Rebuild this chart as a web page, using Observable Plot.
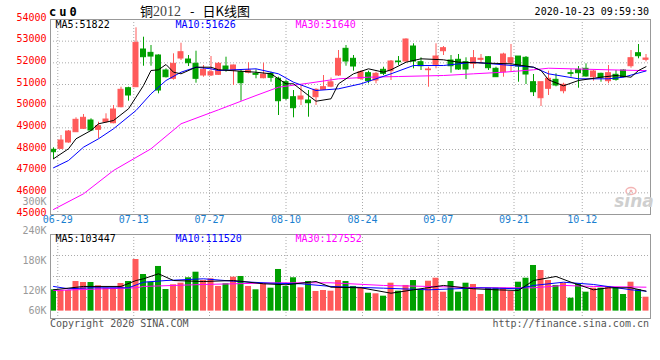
<!DOCTYPE html>
<html><head><meta charset="utf-8">
<script src="https://cdn.jsdelivr.net/npm/d3@7"></script>
<script src="https://cdn.jsdelivr.net/npm/@observablehq/plot@0.6"></script>
<style>
body{margin:0;background:#fff}
#wrap{position:relative;width:660px;height:360px;overflow:hidden;background:#fff}
#wrap svg{position:absolute;left:0}
</style></head><body><div id="wrap"></div>
<script>
// ---- data ----
const openP  = [47986,48032,48323,48798,48955,49338,48909,49260,49213,49952,50829,50875,52615,52460,52338,51646,51263,52199,52153,51955,51415,51415,51447,51830,51646,51567,51540,51493,51290,51493,51263,51106,50413,50307,50261,50413,50755,50900,51415,52647,52186,51263,51521,51184,51678,51614,52061,52061,52753,52029,51660,51909,52536,52107,52140,52029,51955,52140,52260,51724,51567,52001,52291,52232,51106,50367,50801,51216,50690,51521,51678,51724,51337,51493,51152,51447,51646,51844,52444,52140];
const highP  = [48078,48646,48877,49463,49615,49417,49260,49647,50030,50875,50875,53616,53183,52800,52370,51723,52416,52906,52338,52537,51877,52291,52015,52260,51900,51646,52001,51678,51983,51567,51337,51184,50722,50953,50723,50801,51415,51300,52569,52800,52338,51646,51614,51567,51798,52107,52291,53108,52878,52232,51798,52878,52753,52338,52384,52232,52569,52384,52291,51798,52444,52846,52291,52291,51461,51106,51614,51493,51060,51678,51830,51955,51646,51521,51877,51646,51678,52569,52846,52384];
const lowP   = [47538,48000,48290,48798,48923,48830,48494,49213,49186,49924,50229,50875,51844,51844,50570,51300,51200,52107,51830,51060,51337,51369,51415,51567,50953,50229,51493,51263,51263,51106,49569,50261,49463,50030,49490,50030,50723,50850,51369,51844,51614,51184,51032,51032,51415,51184,51877,52029,51724,51646,50875,51724,52338,51521,51646,51230,51724,51955,51646,51337,51337,51567,51106,51000,50446,49984,50492,50892,50570,51337,50829,51337,51152,51106,51032,51152,51309,51752,52186,52045];
const closeP = [47875,48415,48830,49370,49463,48877,49075,49384,49846,50755,50492,52924,52260,52290,50722,51337,51955,52490,51983,51263,51678,51567,51955,51678,51877,51060,51646,51447,51461,51309,50229,50340,49906,50446,50137,50755,50875,51100,52186,52061,51830,51567,51152,51493,51493,52061,52029,53076,52061,51844,51692,52291,52675,51844,51692,51692,52213,52186,51752,51337,52384,52213,51830,51461,50644,51106,51263,50953,50986,51493,51521,51369,51600,51309,51521,51216,51337,52213,52306,52199];
const volume = [121200,119800,119800,138000,136000,136000,129300,124500,124500,134000,138000,182600,152200,136600,168500,121800,131400,134600,145600,156900,140000,143500,128000,133400,146800,148200,128000,121200,133400,124500,162400,128000,145600,125300,138000,117800,119800,118400,140000,138000,128000,124500,114300,113100,108300,134600,118400,130000,140000,121200,138600,144700,116400,138000,116400,134600,132000,111700,124500,124500,124500,117800,136600,144700,170500,160300,140000,130000,134600,104200,133400,116400,124500,124500,128000,125300,111700,136600,121200,106200];

// moving-average lines, read as [candle index, value]
const ma5  = [[0,47571],[2,48032],[3,48494],[5,48877],[6,49186],[8,49338],[10,49878],[11,50413],[12,50953],[13,51646],[14,51678],[15,51923],[16,51567],[17,51493],[19,51798],[21,51798],[22,51680],[27,51567],[29,51493],[31,51032],[32,51032],[34,50492],[35,50229],[37,50340],[38,51032],[40,51493],[42,51724],[44,51567],[45,51678],[47,52029],[49,52186],[52,52140],[54,52029],[58,51983],[61,51955],[64,51798],[65,51646],[66,51216],[68,50940],[70,51184],[73,51337],[75,51415],[77,51337],[78,51646],[79,51822]];
const ma10 = [[0,47155],[2,47492],[4,48106],[6,48494],[8,48955],[11,49800],[13,50570],[15,51184],[17,51567],[19,51798],[21,51724],[22,51646],[27,51724],[30,51493],[32,51106],[35,50723],[38,50801],[41,51032],[43,51263],[45,51493],[48,51876],[52,51876],[56,52029],[60,51909],[64,51798],[66,51493],[70,51263],[74,51263],[76,51337],[79,51626]];
const ma30 = [[0,45231],[4,45955],[8,47031],[13,48032],[17,49186],[22,49832],[27,50492],[30,50875],[34,51060],[38,51263],[42,51337],[46,51369],[52,51415],[56,51493],[60,51567],[64,51678],[66,51752],[69,51724],[74,51678],[79,51640]];
const vma5  = [[0,121200],[4,128000],[9,128000],[11,140000],[12,143500],[14,153700],[16,140000],[20,138000],[24,140000],[28,133400],[31,131400],[35,138000],[37,126500],[41,125300],[45,114300],[48,121200],[52,130000],[56,123300],[59,121200],[62,119800],[64,140000],[67,148200],[69,136600],[72,121200],[74,125300],[77,125300],[79,118400]];
const vma10 = [[0,128000],[2,123300],[5,125300],[10,125300],[12,136600],[15,140000],[20,143500],[24,138600],[29,134600],[33,133400],[37,128000],[44,124500],[50,121200],[57,125300],[62,123300],[64,130000],[68,136600],[72,132000],[77,121200],[79,118400]];
const vma30 = [[0,119800],[11,125300],[12,128000],[20,132000],[30,135400],[37,135400],[44,130000],[50,128000],[57,125300],[64,125300],[68,130000],[72,128000],[79,126500]];

const priceTicks = [54000,53000,52000,51000,50000,49000,48000,47000,46000,45000];
const volTicks = [300000,240000,180000,120000,60000];
const dateTickLabels = ["06-29","07-13","07-27","08-10","08-24","09-07","09-21","10-12"];
const dateTickPos = [0.97,11.1,21.2,31.4,41.6,51.7,61.8,70.9];
const maNames = ["MA5","MA10","MA30"];
const priceMaLast = [51822,51626,51640];
const volMaLast = [103447,111520,127552];

// ---- styling ----
const RED = "#ff5a5a", GREEN = "#00a000";
const MONO = "'DejaVu Sans Mono', monospace";
const MA_COLORS = ["#000000","#0000ff","#ff00ff"];
const LEG_DX = [5,125,245];
const GRID = {stroke:"#aaaaaa", strokeDasharray:"1,2"};
const VOL_BASE = 78000;
const VOL_DOMAIN = [63040, 233300];

const rows = openP.map((o,i)=>({i, o, h:highP[i], l:lowP[i], c:closeP[i], v:volume[i], col: closeP[i]>=o ? RED : GREEN}));

function legends(vals, dy){
  return maNames.map((n,k)=>Plot.text([`${n}:${vals[k]}`], {text:d=>d, frameAnchor:"top-left", lineAnchor:"top", textAnchor:"start", dx:LEG_DX[k], dy, fill:MA_COLORS[k], fontSize:10, fontFamily:MONO}));
}
function maLine(pts, color){
  return Plot.line(pts, {x:d=>d[0]+0.4, y:d=>d[1], stroke:color, strokeWidth:1});
}

const main = Plot.plot({
  width:660, height:228, marginLeft:50, marginRight:10, marginTop:19, marginBottom:14,
  x:{domain:[0,80], axis:null},
  y:{domain:[45000,54000], axis:null},
  color:{type:"identity"},
  style:{background:"transparent", overflow:"visible"},
  marks:[
    Plot.ruleY(priceTicks.filter(v=>v>45000 && v<54000), GRID),
    Plot.ruleX(dateTickPos, GRID),
    Plot.ruleX(rows, {x:d=>d.i+0.4, y1:"l", y2:"h", stroke:"col", strokeWidth:1}),
    Plot.rect(rows, {x1:"i", x2:d=>d.i+0.8, y1:"o", y2:"c", fill:"col", stroke:"col", insetLeft:0.5, insetRight:0.5}),
    maLine(ma30, MA_COLORS[2]),
    maLine(ma10, MA_COLORS[1]),
    maLine(ma5, MA_COLORS[0]),
    Plot.frame({stroke:"#999999"}),
    Plot.text(priceTicks, {y:d=>d, text:d=>String(d), frameAnchor:"left", textAnchor:"end", dx:-4, dy:-2, fill:"#ff0000", fontSize:10, fontFamily:MONO}),
    Plot.text(dateTickPos, {x:d=>d, text:(d,i)=>dateTickLabels[i], frameAnchor:"bottom", dy:8, fill:"#1a7fd0", fontSize:10, fontFamily:MONO}),
    ...legends(priceMaLast, 1)
  ]
});
main.style.top = "0px";

const volPlot = Plot.plot({
  width:660, height:140, marginLeft:50, marginRight:10, marginTop:44, marginBottom:12,
  x:{domain:[0,80], axis:null},
  y:{domain:VOL_DOMAIN, axis:null},
  color:{type:"identity"},
  style:{background:"transparent", overflow:"visible"},
  marks:[
    Plot.ruleY(d3.range(1,4).map(k=>VOL_DOMAIN[0]+k*(VOL_DOMAIN[1]-VOL_DOMAIN[0])/4), GRID),
    Plot.ruleX(dateTickPos, GRID),
    Plot.rect(rows, {x1:"i", x2:d=>d.i+0.8, y1:VOL_BASE, y2:"v", fill:"col"}),
    maLine(vma30, MA_COLORS[2]),
    maLine(vma10, MA_COLORS[1]),
    maLine(vma5, MA_COLORS[0]),
    Plot.frame({stroke:"#999999"}),
    Plot.text(volTicks, {y:d=>Math.max(d, VOL_BASE), text:d=>(d/1000)+"K", frameAnchor:"left", textAnchor:"end", dx:-4, fill:"#999999", fontSize:10, fontFamily:MONO}),
    ...legends(volMaLast, 0)
  ]
});
volPlot.style.top = "190px";

const wrap = document.getElementById("wrap");
wrap.appendChild(main);
wrap.appendChild(volPlot);

// ---- titles / captions ----
const svg = d3.select(wrap).append("svg").attr("width",660).attr("height",360).style("top","0px").style("pointer-events","none");
svg.append("text").attr("x",49).attr("y",16).attr("font-family",MONO).attr("font-weight","bold").attr("font-size",12).attr("letter-spacing",3).text("cu0");
const t = svg.append("text").attr("x",140).attr("y",15.5).attr("font-size",13).attr("font-family","'Noto Sans CJK SC', sans-serif").style("white-space","pre");
t.append("tspan").text("铜");
t.append("tspan").attr("font-family","'Liberation Serif', serif").attr("font-size",14).attr("fill","#444").text("2012");
t.append("tspan").attr("dx",9).text("-");
t.append("tspan").attr("dx",8).text("日K线图");
svg.append("text").attr("x",649).attr("y",15).attr("text-anchor","end").attr("font-family",MONO).attr("font-size",10).text("2020-10-23 09:59:30");
svg.append("text").attr("x",50).attr("y",327).attr("font-family",MONO).attr("font-size",10).attr("fill","#555").text("Copyright 2020 SINA.COM");
svg.append("text").attr("x",649).attr("y",327).attr("text-anchor","end").attr("font-family",MONO).attr("font-size",10).attr("fill","#555").text("http://finance.sina.com.cn");
const logo = svg.append("g").attr("fill","none");
logo.append("ellipse").attr("cx",631).attr("cy",191).attr("rx",5).attr("ry",3.5).attr("stroke","#f3b4b4").attr("stroke-width",1.5);
logo.append("circle").attr("cx",631).attr("cy",191).attr("r",1.5).attr("fill","#f3b4b4");
svg.append("text").attr("x",634).attr("y",207).attr("text-anchor","middle").attr("font-family","'DejaVu Sans', sans-serif").attr("font-style","italic").attr("font-weight","bold").attr("font-size",17).attr("fill","#cfcfcf").text("sina");
</script></body></html>
